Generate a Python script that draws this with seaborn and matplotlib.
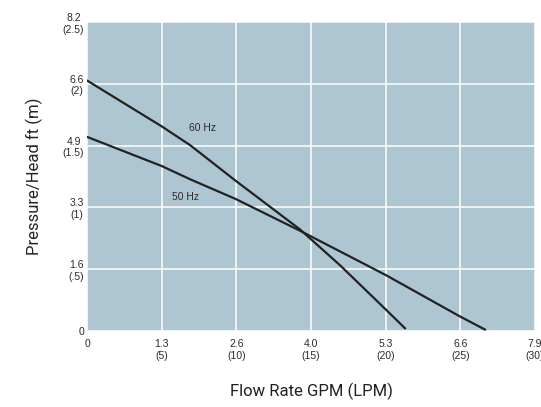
import numpy as np
import pandas as pd
import matplotlib.pyplot as plt
import seaborn as sns

# curve points (flow in LPM, head in m)
flow_60 = [0, 5, 6.9, 9.96, 14.27, 16.95, 20.03, 21.3]
head_60 = [2.026, 1.655, 1.503, 1.214, 0.82, 0.53, 0.17, 0.02]
flow_50 = [0, 5, 6.9, 9.96, 14.27, 20.03, 25, 26.66]
head_50 = [1.57, 1.334, 1.227, 1.067, 0.81, 0.45, 0.115, 0.01]

x_ticks = [0, 5, 10, 15, 20, 25, 30]
x_labels = ["0", "1.3\n(5)", "2.6\n(10)", "4.0\n(15)", "5.3\n(20)", "6.6\n(25)", "7.9\n(30)"]
y_ticks = [0, 0.5, 1, 1.5, 2, 2.5]
y_labels = ["0", "1.6\n(.5)", "3.3\n(1)", "4.9\n(1.5)", "6.6\n(2)", "8.2\n(2.5)"]

df = pd.concat([
    pd.DataFrame({"flow": flow_60, "head": head_60, "freq": "60 Hz"}),
    pd.DataFrame({"flow": flow_50, "head": head_50, "freq": "50 Hz"}),
])

sns.set_style("darkgrid", {"axes.facecolor": "#aec6d2", "grid.color": "white"})
plt.rcParams["font.family"] = ["Roboto", "DejaVu Sans"]
tick_font = ["Liberation Sans", "DejaVu Sans"]

fig = plt.figure(figsize=(5.41, 4.07), dpi=100)
ax = fig.add_axes([0.161, 0.187, 0.828, 0.759])

sns.lineplot(data=df, x="flow", y="head", hue="freq", palette=["#222222", "#222222"],
             linewidth=1.6, legend=False, ax=ax, sort=False)

ax.set_xlim(0, 30)
ax.set_ylim(0, 2.5)
ax.set_xticks(x_ticks)
ax.set_xticklabels(x_labels, fontsize=7.5, color="#2a2a2a", family=tick_font)
ax.set_yticks(y_ticks)
ax.set_yticklabels(y_labels, fontsize=7.5, color="#2a2a2a", family=tick_font,
                   multialignment="center")
ax.tick_params(axis="x", length=0, pad=6)
ax.tick_params(axis="y", length=0, pad=2)
ax.grid(True, color="white", linewidth=1.1)
for s in ax.spines.values():
    s.set_visible(False)

ax.text(7.7, 1.64, "60 Hz", fontsize=7.5, color="#2a2a2a", ha="center", va="center",
        family=tick_font)
ax.text(6.6, 1.08, "50 Hz", fontsize=7.5, color="#2a2a2a", ha="center", va="center",
        family=tick_font)

ax.set_xlabel("Flow Rate GPM (LPM)", fontsize=12, color="#222222", labelpad=16)
ax.set_ylabel("Pressure/Head ft (m)", fontsize=12, color="#222222", labelpad=14)

plt.savefig("out.png", dpi=100)
